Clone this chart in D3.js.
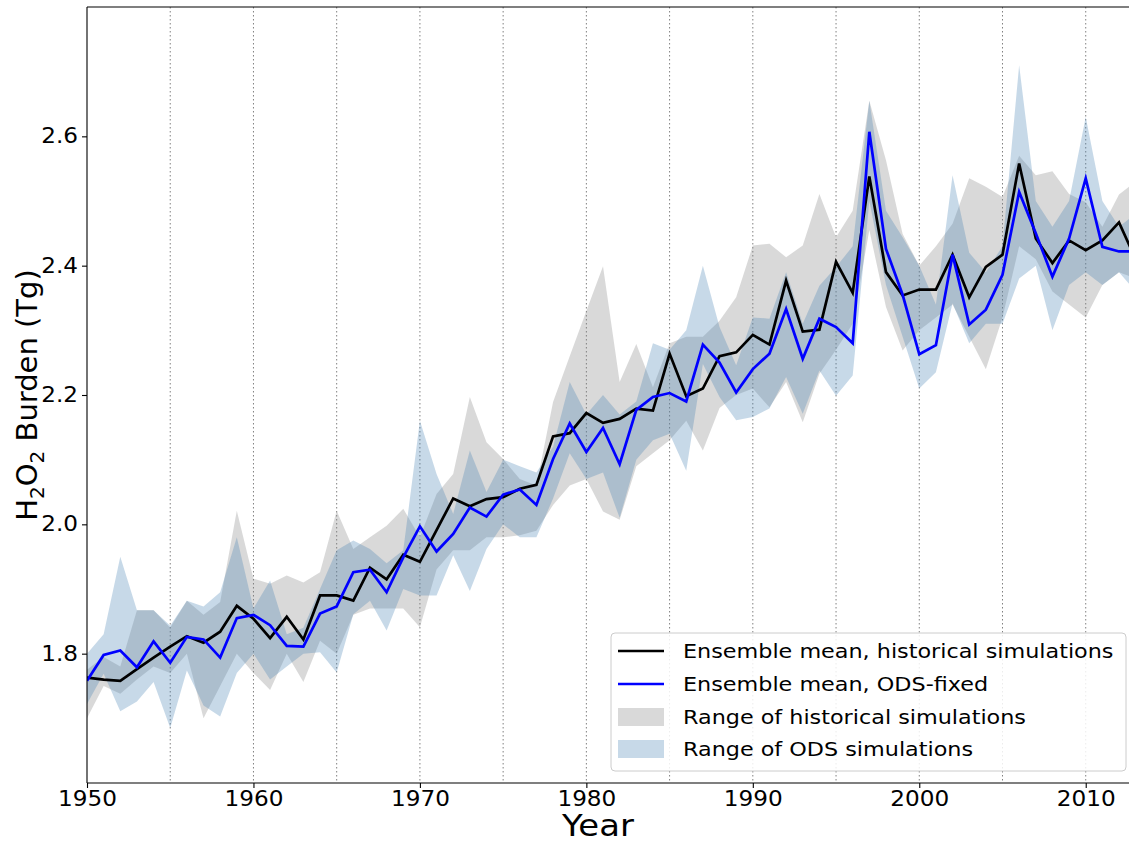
<!DOCTYPE html>
<html>
<head>
<meta charset="utf-8">
<script src="https://cdn.jsdelivr.net/npm/d3@7"></script>
<style>
  html, body { margin: 0; padding: 0; background: #fff; }
  svg { display: block; font-family: "DejaVu Sans", sans-serif; }
</style>
</head>
<body>
<svg id="chart" width="1129" height="844"></svg>
<script>
// ---------------- DATA ----------------
const years = d3.range(1950, 2014);

const histMean = [1.763,1.760,1.758,1.776,1.794,1.811,1.827,1.817,1.834,1.874,
  1.854,1.824,1.857,1.822,1.890,1.890,1.882,1.933,1.915,1.953,
  1.942,1.991,2.040,2.028,2.039,2.042,2.055,2.061,2.136,2.141,
  2.172,2.157,2.163,2.179,2.176,2.264,2.198,2.210,2.260,2.266,
  2.293,2.278,2.377,2.298,2.301,2.406,2.358,2.538,2.390,2.354,
  2.363,2.363,2.417,2.351,2.398,2.417,2.558,2.442,2.404,2.439,
  2.424,2.439,2.467,2.410];

const odsMean = [1.758,1.798,1.805,1.779,1.819,1.786,1.826,1.822,1.794,1.855,
  1.860,1.844,1.812,1.811,1.862,1.873,1.926,1.930,1.895,1.949,
  1.997,1.958,1.985,2.026,2.012,2.046,2.054,2.030,2.101,2.156,
  2.112,2.149,2.093,2.177,2.197,2.203,2.190,2.278,2.250,2.204,
  2.240,2.264,2.333,2.256,2.318,2.305,2.280,2.607,2.426,2.355,
  2.263,2.277,2.417,2.309,2.332,2.386,2.514,2.450,2.383,2.442,
  2.535,2.429,2.422,2.422];

const histLow = [1.700,1.750,1.738,1.760,1.780,1.770,1.800,1.700,1.750,1.800,
  1.770,1.744,1.800,1.756,1.820,1.800,1.860,1.870,1.870,1.870,
  1.841,1.930,1.960,1.960,1.980,1.980,1.983,1.990,2.030,2.060,
  2.070,2.020,2.007,2.090,2.110,2.130,2.160,2.114,2.180,2.200,
  2.210,2.181,2.220,2.158,2.233,2.270,2.310,2.455,2.336,2.269,
  2.300,2.320,2.340,2.290,2.240,2.320,2.430,2.410,2.360,2.340,
  2.320,2.370,2.390,2.380];

const histHigh = [1.775,1.795,1.780,1.867,1.867,1.840,1.882,1.860,1.880,2.021,
  1.916,1.908,1.921,1.910,1.926,2.021,1.962,1.980,1.998,2.024,
  1.980,2.047,2.078,2.197,2.127,2.101,2.070,2.060,2.189,2.260,
  2.330,2.399,2.220,2.279,2.212,2.280,2.290,2.290,2.315,2.351,
  2.431,2.434,2.413,2.431,2.511,2.444,2.485,2.655,2.563,2.449,
  2.400,2.430,2.465,2.535,2.522,2.506,2.570,2.540,2.546,2.511,
  2.498,2.460,2.510,2.530];

const odsLow = [1.722,1.769,1.711,1.726,1.756,1.685,1.774,1.720,1.703,1.770,
  1.800,1.760,1.780,1.800,1.802,1.771,1.861,1.882,1.836,1.900,
  1.890,1.890,1.952,1.897,1.962,2.000,1.980,1.980,2.040,2.110,
  2.070,2.080,2.010,2.100,2.130,2.140,2.083,2.248,2.197,2.161,
  2.166,2.179,2.228,2.171,2.238,2.199,2.230,2.500,2.370,2.290,
  2.210,2.235,2.342,2.280,2.310,2.310,2.380,2.400,2.300,2.370,
  2.390,2.370,2.390,2.360];

const odsHigh = [1.800,1.830,1.950,1.867,1.867,1.843,1.882,1.873,1.895,1.980,
  1.870,1.913,1.830,1.840,1.900,1.960,1.975,1.962,1.940,1.960,
  2.160,2.078,2.016,2.114,2.050,2.100,2.090,2.080,2.120,2.220,
  2.170,2.200,2.170,2.190,2.280,2.270,2.300,2.400,2.305,2.246,
  2.320,2.318,2.390,2.310,2.369,2.398,2.430,2.655,2.485,2.444,
  2.400,2.340,2.540,2.420,2.390,2.430,2.710,2.500,2.460,2.500,
  2.630,2.500,2.460,2.480];

const xTicks = [1950, 1960, 1970, 1980, 1990, 2000, 2010];
const yTicks = [1.8, 2.0, 2.2, 2.4, 2.6];
const gridYears = d3.range(1955, 2015, 5);

const legendLabels = [
  "Ensemble mean, historical simulations",
  "Ensemble mean, ODS-fixed",
  "Range of historical simulations",
  "Range of ODS simulations"
];

// ---------------- LAYOUT ----------------
const L = 87, T = 7, B = 783, R = 1129;
const SX = 1.13;   // horizontal stretch of tick text seen in the reference
const SXL = 1.115; // legend text stretch

const svg = d3.select("#chart");

const x = d3.scaleLinear().domain([1950, 2012.6]).range([L, R]);
const y = d3.scaleLinear().domain([1.6, 2.8]).range([B, T]);

svg.append("defs").append("clipPath").attr("id", "plotclip")
  .append("rect").attr("x", L).attr("y", T).attr("width", R - L).attr("height", B - T);

const plot = svg.append("g").attr("clip-path", "url(#plotclip)");

plot.selectAll("line.grid").data(gridYears).enter().append("line")
  .attr("class", "grid")
  .attr("x1", d => x(d)).attr("x2", d => x(d))
  .attr("y1", T).attr("y2", B)
  .attr("stroke", "#808080").attr("stroke-width", 1)
  .attr("stroke-dasharray", "1.5,2.5");

const rows = years.map((yr, i) => ({
  yr, hm: histMean[i], om: odsMean[i],
  hl: histLow[i], hh: histHigh[i], ol: odsLow[i], oh: odsHigh[i]
}));

const histArea = d3.area().x(d => x(d.yr)).y0(d => y(d.hl)).y1(d => y(d.hh));
const odsArea = d3.area().x(d => x(d.yr)).y0(d => y(d.ol)).y1(d => y(d.oh));

const greyFill = "rgb(128,128,128)";
const blueFill = "rgb(70,130,180)";

plot.append("path").datum(rows).attr("d", histArea)
  .attr("fill", greyFill).attr("fill-opacity", 0.3);
plot.append("path").datum(rows).attr("d", odsArea)
  .attr("fill", blueFill).attr("fill-opacity", 0.3);

const histLine = d3.line().x(d => x(d.yr)).y(d => y(d.hm));
const odsLine = d3.line().x(d => x(d.yr)).y(d => y(d.om));

plot.append("path").datum(rows).attr("d", histLine)
  .attr("fill", "none").attr("stroke", "#000").attr("stroke-width", 2.7);
plot.append("path").datum(rows).attr("d", odsLine)
  .attr("fill", "none").attr("stroke", "#0000ff").attr("stroke-width", 2.7);

// axes
const xAxis = d3.axisBottom(x).tickValues(xTicks).tickFormat(d3.format("d"))
  .tickSize(5).tickPadding(3);
const yAxis = d3.axisLeft(y).tickValues(yTicks).tickFormat(d3.format(".1f"))
  .tickSize(5).tickPadding(4);

const gx = svg.append("g").attr("transform", `translate(0,${B})`).call(xAxis);
const gy = svg.append("g").attr("transform", `translate(${L},0)`).call(yAxis);

[gx, gy].forEach(g => {
  g.select(".domain").remove();
  g.selectAll(".tick line").attr("stroke", "#000").attr("stroke-width", 1.1);
  g.selectAll(".tick text").attr("fill", "#000")
    .style("font-family", "DejaVu Sans").style("font-size", "20.5px");
});
gx.selectAll(".tick text").attr("transform", `scale(${SX},1)`);
gy.selectAll(".tick text").attr("transform", `scale(${SX},1)`)
  .attr("x", -9 / SX);

// spines
svg.append("line").attr("x1", L).attr("x2", L).attr("y1", T).attr("y2", B)
  .attr("stroke", "#000").attr("stroke-width", 1.1);
svg.append("line").attr("x1", L).attr("x2", R).attr("y1", T).attr("y2", T)
  .attr("stroke", "#000").attr("stroke-width", 1.1);
svg.append("line").attr("x1", L).attr("x2", R).attr("y1", B).attr("y2", B)
  .attr("stroke", "#000").attr("stroke-width", 1.1);

// axis titles
svg.append("text")
  .attr("transform", `translate(598,836) scale(${SX},1)`)
  .attr("text-anchor", "middle").style("font-size", "30px").text("Year");

const yl = svg.append("text")
  .attr("transform", "translate(37,395) rotate(-90)")
  .attr("text-anchor", "middle").style("font-size", "29px");
yl.append("tspan").text("H");
yl.append("tspan").attr("dy", 7).style("font-size", "20px").text("2");
yl.append("tspan").attr("dy", -7).text("O");
yl.append("tspan").attr("dy", 7).style("font-size", "20px").text("2");
yl.append("tspan").attr("dy", -7).text(" Burden (Tg)");

// legend
const lg = svg.append("g");
lg.append("rect").attr("x", 611).attr("y", 633).attr("width", 515).attr("height", 138)
  .attr("rx", 4).attr("ry", 4)
  .attr("fill", "#fff").attr("fill-opacity", 0.85)
  .attr("stroke", "#cccccc").attr("stroke-width", 1);

const rowY = [651, 684, 717, 749];
const handles = [
  {type: "line", color: "#000"},
  {type: "line", color: "#0000ff"},
  {type: "patch", color: greyFill},
  {type: "patch", color: blueFill}
];
legendLabels.forEach((lab, i) => {
  const h = handles[i];
  if (h.type === "line") {
    lg.append("line").attr("x1", 618).attr("x2", 664).attr("y1", rowY[i]).attr("y2", rowY[i])
      .attr("stroke", h.color).attr("stroke-width", 2.7);
  } else {
    lg.append("rect").attr("x", 618).attr("y", rowY[i] - 9).attr("width", 46).attr("height", 18)
      .attr("fill", h.color).attr("fill-opacity", 0.3);
  }
  lg.append("text")
    .attr("transform", `translate(683,${rowY[i]}) scale(${SXL},1)`)
    .attr("dy", "0.36em")
    .style("font-size", "20px").text(lab);
});
</script>
</body>
</html>
